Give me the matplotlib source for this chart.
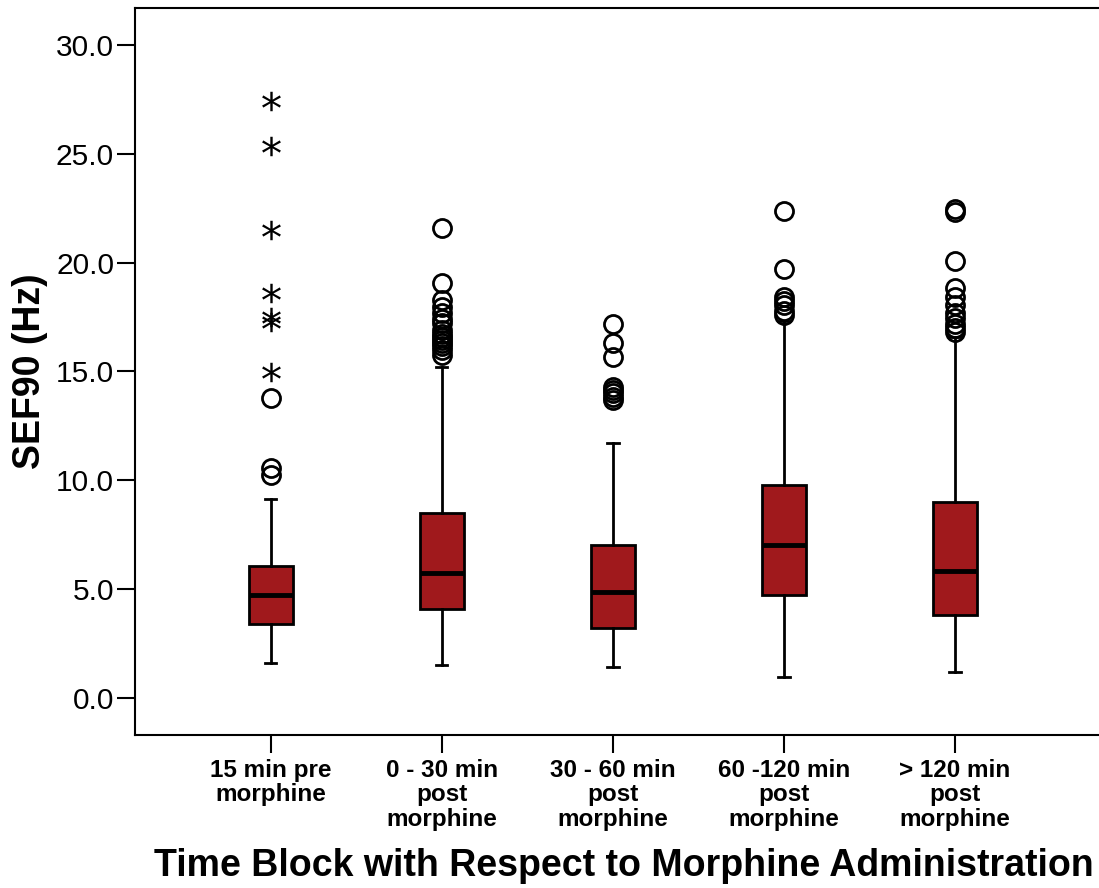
import matplotlib
matplotlib.use("Agg")
import matplotlib.pyplot as plt

plt.rcParams['font.family'] = ['Liberation Sans', 'DejaVu Sans']

# categories
groups = ["15 min pre\nmorphine", "0 - 30 min\npost\nmorphine", "30 - 60 min\npost\nmorphine",
          "60 -120 min\npost\nmorphine", "> 120 min\npost\nmorphine"]

# box statistics
whislo = [1.61, 1.52, 1.42, 0.98, 1.19]
q1 = [3.40, 4.07, 3.22, 4.73, 3.81]
med = [4.73, 5.74, 4.87, 7.03, 5.83]
q3 = [6.06, 8.52, 7.05, 9.80, 9.02]
whishi = [9.15, 15.2, 11.71, 17.3, 16.6]

# outliers (circles) and extremes (stars)
outliers = [
    [10.57, 10.24, 13.78],
    [21.59, 19.07, 18.28, 17.96, 17.69, 17.4, 17.23, 16.91, 16.7, 16.58, 16.45, 16.31, 16.15, 15.99, 15.76],
    [17.2, 16.3, 15.66, 14.3, 14.15, 14.0, 13.85, 13.7],
    [22.36, 19.7, 18.4, 18.25, 18.05, 17.8, 17.6],
    [22.45, 22.35, 20.07, 18.83, 18.4, 18.05, 17.7, 17.45, 17.2, 17.0, 16.8],
]
extremes = [
    [27.44, 25.36, 21.5, 18.6, 17.5, 17.27, 14.98],
    [], [], [], [],
]

stats = []
for i in range(len(groups)):
    stats.append(dict(whislo=whislo[i], q1=q1[i], med=med[i], q3=q3[i],
                      whishi=whishi[i], fliers=[]))

fig = plt.figure(figsize=(10.99, 8.88), dpi=100)
ax = fig.add_axes([0.1228, 0.1723, 0.8772, 0.8187])

pos = list(range(1, len(groups) + 1))
ax.bxp(stats, positions=pos, widths=0.26, capwidths=0.065, patch_artist=True,
       showfliers=False,
       boxprops=dict(facecolor='#A0191C', edgecolor='black', linewidth=2),
       medianprops=dict(color='black', linewidth=3.5),
       whiskerprops=dict(color='black', linewidth=2),
       capprops=dict(color='black', linewidth=2))

for p, vals in zip(pos, outliers):
    ax.plot([p] * len(vals), vals, 'o', ms=13, mfc='none', mec='black', mew=2, zorder=4)
for p, vals in zip(pos, extremes):
    if vals:
        ax.plot([p] * len(vals), vals, ls='none', marker=r'$*$', ms=14, mew=0,
                color='black', zorder=4)

ax.set_xlim(0.205, 5.842)
ax.set_ylim(-1.70, 31.70)
ax.set_yticks([0, 5, 10, 15, 20, 25, 30])
ax.set_yticklabels(["0.0", "5.0", "10.0", "15.0", "20.0", "25.0", "30.0"])
ax.set_xticks(pos)
ax.set_xticklabels(groups, fontsize=17.5, fontweight='bold', linespacing=1.1, va='top')

ax.tick_params(axis='y', labelsize=21.5, length=13, width=1.5, pad=2)
ax.tick_params(axis='x', length=13, width=1.5, pad=4)

for s in ['left', 'bottom', 'top']:
    ax.spines[s].set_linewidth(1.5)
ax.spines['right'].set_visible(False)

ax.set_ylabel("SEF90 (Hz)", fontsize=27, fontweight='bold', labelpad=6)
ax.set_xlabel("Time Block with Respect to Morphine Administration", fontsize=27,
              fontweight='bold')
ax.xaxis.set_label_coords(0.507, -0.155)

fig.savefig("out.png", dpi=100)
